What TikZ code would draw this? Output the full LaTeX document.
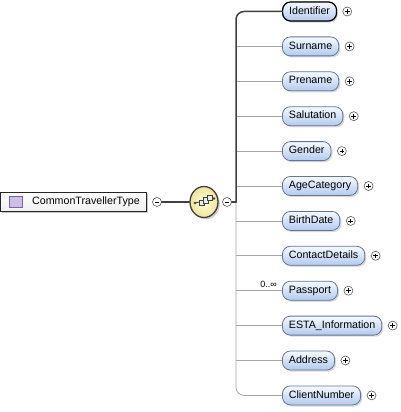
\documentclass[tikz,border=0pt]{standalone}
\usepackage{fontspec}
\setmainfont{Liberation Sans}
\usetikzlibrary{shapes.geometric,shadows}
\definecolor{boxline}{RGB}{100,118,150}
\definecolor{boxtop}{RGB}{246,250,255}
\definecolor{boxbot}{RGB}{178,202,238}
\definecolor{darkline}{RGB}{64,64,64}
\definecolor{thinline}{RGB}{165,165,165}
\definecolor{circline}{RGB}{90,90,90}
\definecolor{compin}{RGB}{255,255,225}
\definecolor{compout}{RGB}{238,228,150}
\definecolor{icfill}{RGB}{205,190,232}
\definecolor{icline}{RGB}{120,100,165}
\begin{document}
\begin{tikzpicture}[x=1pt,y=-1pt,
  childbox/.style={draw=boxline, line width=0.8pt, rounded corners=8pt,
    top color=boxtop, bottom color=boxbot, minimum height=19pt,
    inner xsep=6.5pt, inner ysep=0pt, text height=7.7pt, text depth=2.3pt,
    font=\fontsize{10.67}{12}\selectfont, anchor=west,
    drop shadow={shadow xshift=1.6pt, shadow yshift=-1.6pt, opacity=0.3}},
  pluscirc/.style={circle, draw=circline, line width=0.6pt, fill=white,
    minimum size=9pt, inner sep=0pt,
    path picture={\draw[line width=0.7pt,black]
      ([xshift=-2.3pt]path picture bounding box.center) -- ([xshift=2.3pt]path picture bounding box.center)
      ([yshift=-2.3pt]path picture bounding box.center) -- ([yshift=2.3pt]path picture bounding box.center);}},
  minuscirc/.style={circle, draw=circline, line width=0.6pt, fill=white,
    minimum size=9pt, inner sep=0pt,
    path picture={\draw[line width=0.7pt,black]
      ([xshift=-2.3pt]path picture bounding box.center) -- ([xshift=2.3pt]path picture bounding box.center);}},
  thickconn/.style={draw=darkline, line width=1.5pt, line cap=round},
  thinconn/.style={draw=thinline, line width=0.8pt},
  iconbox/.style={draw=darkline, line width=0.6pt, fill=white!85!gray},
]
\useasboundingbox (0,0) rectangle (400,412);

% root element
\node[draw=black!85, line width=0.9pt, top color=white, bottom color=black!6,
  minimum width=146pt, minimum height=19pt, inner sep=0pt,
  drop shadow={shadow xshift=1.8pt, shadow yshift=-1.8pt, opacity=0.45}]
  (root) at (73.5,201.5) {};
\node[draw=icline, line width=0.6pt, fill=icfill, minimum width=13pt,
  minimum height=11pt, inner sep=0pt] (ricon) at (15.5,202) {};
\node[anchor=west, inner sep=0pt, font=\fontsize{10.67}{12}\selectfont]
  (rtext) at (32,202) {CommonTravellerType};

\node[minuscirc] (m1) at (157,202) {};

% compositor
\node[ellipse, draw=darkline, line width=1.3pt, inner color=compin, outer color=compout,
  minimum width=28pt, minimum height=31pt, inner sep=0pt,
  drop shadow={shadow xshift=1.8pt, shadow yshift=-1.8pt, opacity=0.4}]
  (comp) at (204,202) {};
\draw[darkline, line width=0.8pt] ([shift={(-9,1)}]comp.center) -- ([shift={(10,-3.5)}]comp.center);
\fill[darkline] ([shift={(-9,1)}]comp.center) circle (1.3);
\fill[darkline] ([shift={(10,-3.5)}]comp.center) circle (1.3);
\draw[iconbox] ([shift={(-4.5,-2)}]comp.center) rectangle ([shift={(0,3.5)}]comp.center);
\draw[iconbox] ([shift={(-0.5,-4.5)}]comp.center) rectangle ([shift={(4,1)}]comp.center);
\draw[iconbox] ([shift={(3.5,-7)}]comp.center) rectangle ([shift={(8,-1.5)}]comp.center);

\node[minuscirc] (m2) at (227,202) {};
\coordinate (sp) at (236,202);

% children
\foreach \n/\t [count=\k from 0] in {id/Identifier, sn/Surname, pn/Prename,
    sa/Salutation, ge/Gender, ac/AgeCategory, bd/BirthDate, cd/ContactDetails,
    pp/Passport, es/ESTA\_Information, ad/Address, cn/ClientNumber}{
  \node[childbox] (\n) at (282,11.5+34.9*\k) {\t};
  \node[pluscirc] (p\n) at ([xshift=10.5pt]\n.east) {};
}
\node[draw=black, line width=1.2pt, rounded corners=8pt, top color=boxtop,
  bottom color=boxbot, minimum height=19pt, inner xsep=6.5pt, inner ysep=0pt,
  text height=7.7pt, text depth=2.3pt, font=\fontsize{10.67}{12}\selectfont,
  anchor=west] (idb) at (282,11.5) {Identifier};

% connectors
\draw[thickconn] (m1.east) -- (comp.west);
\draw[thinconn, rounded corners=8pt] (sp) |- (cn.west);
\foreach \n in {sn,pn,sa,ge,ac,bd,cd,pp,es,ad}{
  \draw[thinconn] (sp |- \n.west) -- (\n.west);
}
\draw[thickconn] (m2.east) -- (sp);
\draw[thickconn, rounded corners=8pt] (sp) |- (idb.west);

\node[anchor=base east, inner sep=0pt, font=\fontsize{9}{10}\selectfont]
  (card) at (277,287.5) {0..∞};
\end{tikzpicture}
\end{document}
